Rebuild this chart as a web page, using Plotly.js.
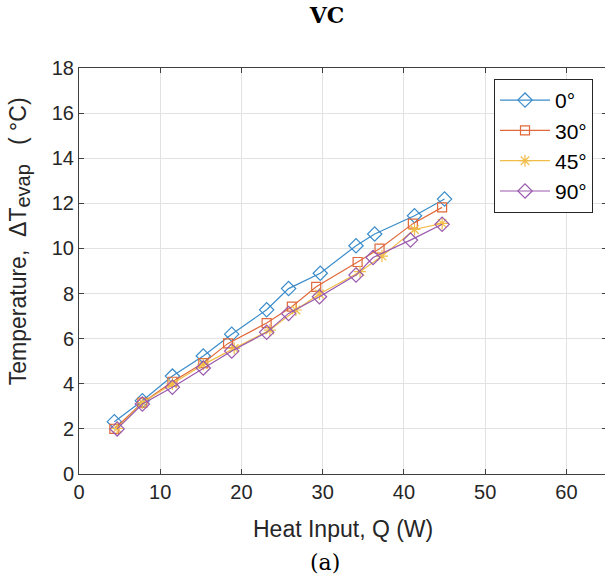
<!DOCTYPE html>
<html>
<head>
<meta charset="utf-8">
<script src="https://cdn.plot.ly/plotly-3.0.1.min.js"></script>
<style>
html,body{margin:0;padding:0;overflow:hidden;background:#fff;width:605px;height:579px;}
#chart{width:620px;height:579px;}
</style>
</head>
<body>
<div id="chart"></div>
<script>
// Data
const seriesNames = ['0°', '30°', '45°', '90°'];
const x0  = [4.35, 7.8, 11.5, 15.3, 18.8, 23.1, 25.8, 29.7, 34.1, 36.4, 41.3, 45.0];
const y0  = [2.32, 3.25, 4.34, 5.23, 6.2, 7.28, 8.22, 8.9, 10.12, 10.64, 11.45, 12.19];
const x30 = [4.35, 7.8, 11.5, 15.3, 18.35, 23.1, 26.2, 29.2, 34.3, 37.0, 41.1, 44.7];
const y30 = [2.0, 3.16, 4.09, 4.92, 5.79, 6.69, 7.42, 8.3, 9.4, 9.99, 11.1, 11.82];
const x45 = [4.7, 7.8, 11.5, 15.3, 19.1, 23.5, 26.7, 29.6, 34.6, 37.3, 41.3, 44.7];
const y45 = [2.02, 3.16, 4.0, 4.85, 5.57, 6.38, 7.27, 7.98, 8.97, 9.66, 10.84, 11.11];
const x90 = [4.7, 7.8, 11.5, 15.3, 18.8, 23.1, 25.8, 29.6, 34.1, 36.2, 40.8, 44.7];
const y90 = [2.0, 3.1, 3.85, 4.7, 5.45, 6.28, 7.12, 7.86, 8.82, 9.6, 10.37, 11.07];
const xTicks = [0, 10, 20, 30, 40, 50, 60];
const yTicks = [0, 2, 4, 6, 8, 10, 12, 14, 16, 18];

const colors = ['#3a8ccb', '#e0683a', '#f0bd48', '#9a58ad'];
const symbols = ['diamond-open', 'square-open', 'asterisk-open', 'diamond-open'];
const sizes = [11, 9, 10, 11];
const xs = [x0, x30, x45, x90];
const ys = [y0, y30, y45, y90];

const traces = seriesNames.map((n, i) => ({
  x: xs[i], y: ys[i], name: n, type: 'scatter', mode: 'lines+markers',
  line: {color: colors[i], width: 1.2},
  marker: {symbol: symbols[i], size: sizes[i], color: colors[i], line: {color: colors[i], width: 1.2}}
}));

const axisCommon = {
  showline: true, linecolor: '#404040', linewidth: 1, mirror: 'ticks',
  ticks: 'inside', ticklen: 5, tickcolor: '#404040', tickwidth: 1,
  showgrid: true, gridcolor: '#e2e2e2', gridwidth: 1, zeroline: false,
  tickfont: {family: 'Liberation Sans, Arial, sans-serif', size: 20, color: '#262626'}
};

const NB = '\u00A0';
const yTitle = 'Temperature,' + NB + NB + 'ΔT<sub><span style="font-size:20px">evap</span></sub>' + NB + NB + NB + '(' + NB + '°C)';

const layout = {
  width: 620, height: 579,
  margin: {l: 79, r: 13, t: 68, b: 105},
  paper_bgcolor: '#fff', plot_bgcolor: '#fff',
  showlegend: true,
  xaxis: Object.assign({}, axisCommon, {range: [0, 65], tickvals: xTicks, ticktext: xTicks.map(String)}),
  yaxis: Object.assign({}, axisCommon, {range: [0, 18], tickvals: yTicks, ticktext: yTicks.map(String)}),
  title: {text: 'VC', font: {family: 'DejaVu Serif, serif', size: 22, color: '#000', weight: 'bold'},
          xref: 'container', yref: 'container', x: 327/620, y: 1 - 15/579, xanchor: 'center', yanchor: 'middle'},
  legend: {x: 0.786, y: 0.973, xanchor: 'left', yanchor: 'top', bgcolor: '#fff',
           bordercolor: '#262626', borderwidth: 1, itemwidth: 50,
           font: {family: 'Liberation Sans, Arial, sans-serif', size: 21, color: '#000'}},
  annotations: [
    {text: 'Heat Input, Q (W)', xref: 'paper', yref: 'paper', x: 0.5, y: -0.135, showarrow: false,
     xanchor: 'center', yanchor: 'middle', font: {family: 'Liberation Sans, Arial, sans-serif', size: 23, color: '#262626'}},
    {text: yTitle, xref: 'paper', yref: 'paper', x: -0.112, y: 0.573, textangle: -90,
     showarrow: false, xanchor: 'center', yanchor: 'middle', font: {family: 'Liberation Sans, Arial, sans-serif', size: 23, color: '#262626'}},
    {text: '(a)', xref: 'paper', yref: 'paper', x: 0.466, y: -0.219, showarrow: false,
     xanchor: 'center', yanchor: 'middle', font: {family: 'DejaVu Serif, serif', size: 22, color: '#000'}}
  ]
};

Plotly.newPlot('chart', traces, layout, {displayModeBar: false, staticPlot: true});
</script>
</body>
</html>
